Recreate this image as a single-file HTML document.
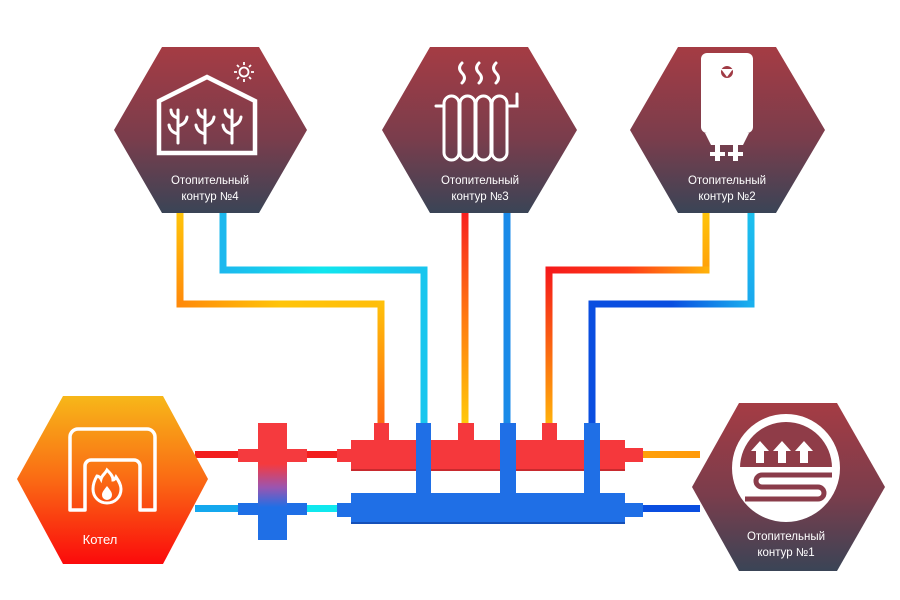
<!DOCTYPE html>
<html><head><meta charset="utf-8"><style>html,body{margin:0;padding:0;background:#fff}svg{display:block}</style></head><body>
<svg width="900" height="600" viewBox="0 0 900 600" xmlns="http://www.w3.org/2000/svg" font-family="Liberation Sans, DejaVu Sans, sans-serif">
<defs>
<linearGradient id="hx" x1="0" y1="0" x2="0" y2="1"><stop offset="0" stop-color="#a53c44"/><stop offset="0.55" stop-color="#7a3d4c"/><stop offset="1" stop-color="#3a4456"/></linearGradient>
<linearGradient id="kt" x1="0" y1="0" x2="0" y2="1"><stop offset="0" stop-color="#f7b719"/><stop offset="0.5" stop-color="#fa6a14"/><stop offset="1" stop-color="#fb0a0c"/></linearGradient>
<linearGradient id="cross" x1="0" y1="423" x2="0" y2="540" gradientUnits="userSpaceOnUse"><stop offset="0" stop-color="#f53a3e"/><stop offset="0.35" stop-color="#f53a3e"/><stop offset="0.55" stop-color="#9b55b0"/><stop offset="0.72" stop-color="#1f6fe6"/><stop offset="1" stop-color="#1f6fe6"/></linearGradient>
<!-- pipe gradients -->
<linearGradient id="o4a" x1="0" y1="213" x2="0" y2="304" gradientUnits="userSpaceOnUse"><stop offset="0" stop-color="#ffc40a"/><stop offset="1" stop-color="#ff8a0a"/></linearGradient>
<linearGradient id="o4b" x1="180" y1="0" x2="381" y2="0" gradientUnits="userSpaceOnUse"><stop offset="0" stop-color="#ff8a0a"/><stop offset="0.5" stop-color="#ffc40a"/><stop offset="1" stop-color="#ffbe0a"/></linearGradient>
<linearGradient id="o4c" x1="0" y1="304" x2="0" y2="423" gradientUnits="userSpaceOnUse"><stop offset="0" stop-color="#ffc00a"/><stop offset="1" stop-color="#ff6a10"/></linearGradient>
<linearGradient id="c4" x1="223" y1="0" x2="424" y2="0" gradientUnits="userSpaceOnUse"><stop offset="0" stop-color="#1cb8ee"/><stop offset="0.5" stop-color="#10e6ee"/><stop offset="1" stop-color="#1cc0ee"/></linearGradient>
<linearGradient id="r3" x1="0" y1="213" x2="0" y2="423" gradientUnits="userSpaceOnUse"><stop offset="0" stop-color="#f72020"/><stop offset="0.5" stop-color="#ff7a10"/><stop offset="1" stop-color="#ffc80a"/></linearGradient>
<linearGradient id="r2a" x1="0" y1="213" x2="0" y2="270" gradientUnits="userSpaceOnUse"><stop offset="0" stop-color="#ffc40a"/><stop offset="1" stop-color="#ffa00a"/></linearGradient>
<linearGradient id="r2b" x1="706" y1="0" x2="549" y2="0" gradientUnits="userSpaceOnUse"><stop offset="0" stop-color="#ffb00a"/><stop offset="0.5" stop-color="#ff3a18"/><stop offset="1" stop-color="#f51a1a"/></linearGradient>
<linearGradient id="r2c" x1="0" y1="270" x2="0" y2="423" gradientUnits="userSpaceOnUse"><stop offset="0" stop-color="#f51a1a"/><stop offset="1" stop-color="#ffb00a"/></linearGradient>
<linearGradient id="b2a" x1="0" y1="213" x2="0" y2="304" gradientUnits="userSpaceOnUse"><stop offset="0" stop-color="#1cc0ee"/><stop offset="1" stop-color="#1aa8ee"/></linearGradient>
<linearGradient id="b2b" x1="751" y1="0" x2="592" y2="0" gradientUnits="userSpaceOnUse"><stop offset="0" stop-color="#1ab0ee"/><stop offset="0.5" stop-color="#0a4ee0"/><stop offset="1" stop-color="#0a4ee0"/></linearGradient>
<linearGradient id="hpo" x1="643" y1="0" x2="700" y2="0" gradientUnits="userSpaceOnUse"><stop offset="0" stop-color="#ffa00a"/><stop offset="1" stop-color="#ff9a0a"/></linearGradient>
<clipPath id="cc"><circle cx="786" cy="468" r="46"/></clipPath>
</defs>

<!-- pipes contour 4 -->
<g stroke-linecap="square" fill="none" stroke-width="7">
<path d="M180 213V304" stroke="url(#o4a)"/>
<path d="M180 304H381" stroke="url(#o4b)"/>
<path d="M381 304V423" stroke="url(#o4c)"/>
<path d="M223 213V270" stroke="#1cb8ee"/>
<path d="M223 270H424" stroke="url(#c4)"/>
<path d="M424 270V423" stroke="#18c6ee"/>
<path d="M465 213V423" stroke="url(#r3)"/>
<path d="M507 213V423" stroke="#1a8ae8"/>
<path d="M706 213V270" stroke="url(#r2a)"/>
<path d="M706 270H549" stroke="url(#r2b)"/>
<path d="M549 270V423" stroke="url(#r2c)"/>
<path d="M751 213V304" stroke="url(#b2a)"/>
<path d="M751 304H592" stroke="url(#b2b)"/>
<path d="M592 304V423" stroke="#0a4ee0"/>
</g>
<!-- horizontal thin pipes -->
<rect x="195" y="451" width="50" height="7" fill="#f21e1e"/>
<rect x="300" y="451" width="40" height="7" fill="#f21e1e"/>
<rect x="195" y="505" width="50" height="7" fill="#14a8ee"/>
<rect x="300" y="505" width="40" height="7" fill="#10e8ee"/>
<rect x="640" y="451" width="60" height="7" fill="url(#hpo)"/>
<rect x="640" y="505" width="60" height="7" fill="#0a4ee0"/>

<!-- cross separator -->
<g fill="url(#cross)">
<rect x="258" y="423" width="29" height="117"/>
<rect x="238" y="449" width="69" height="13" fill="#f53a3e"/>
<rect x="238" y="503" width="69" height="12" fill="#1f6fe6"/>
</g>
<rect x="258" y="423" width="29" height="117" fill="url(#cross)"/>

<!-- red manifold -->
<g fill="#f5383c">
<rect x="337" y="449" width="16" height="13"/>
<rect x="351" y="440" width="274" height="31"/>
<rect x="623" y="448" width="20" height="14"/>
<rect x="374" y="423" width="15" height="18"/>
<rect x="458" y="423" width="16" height="18"/>
<rect x="542" y="423" width="15" height="18"/>
</g>
<rect x="351" y="469" width="274" height="2" fill="#c82a2e"/>
<!-- blue manifold -->
<g fill="#1f6fe6">
<rect x="337" y="503" width="16" height="14"/>
<rect x="351" y="493" width="274" height="31"/>
<rect x="623" y="503" width="20" height="14"/>
<rect x="416" y="423" width="15" height="72"/>
<rect x="500" y="423" width="16" height="72"/>
<rect x="584" y="423" width="16" height="72"/>
</g>
<rect x="351" y="522" width="274" height="2" fill="#1550b8"/>

<!-- hex 4 -->
<polygon points="114,130 162,47 259,47 307,130 259,213 162,213" fill="url(#hx)"/>
<g stroke="#fff" stroke-width="4.5" fill="none" stroke-linejoin="miter">
<path d="M159 153V101L207 77L255 101V153Z"/>
</g>
<g stroke="#fff" stroke-width="1.8" fill="none">
<circle cx="244" cy="72" r="4.5"/>
<path d="M244 62v3M244 79v3M234 72h3M251 72h3M237 65l2 2M249 77l2 2M251 65l-2 2M237 79l2-2"/>
</g>
<g stroke="#fff" stroke-width="3" fill="none" stroke-linecap="round">
<path d="M178 143V110M205 143V110M232 143V110"/>
<path d="M178 134q-8-2-9-9M178 126q8-2 9-9M178 118q-7-2-7-8M205 134q-8-2-9-9M205 126q8-2 9-9M205 118q-7-2-7-8M232 134q-8-2-9-9M232 126q8-2 9-9M232 118q-7-2-7-8"/>
</g>
<text x="210" y="184" font-size="11.5" fill="#fff" text-anchor="middle">Отопительный</text>
<text x="210" y="200" font-size="11.5" fill="#fff" text-anchor="middle">контур  №4</text>

<!-- hex 3 -->
<polygon points="382,130 430,47 528,47 577,130 528,213 430,213" fill="url(#hx)"/>
<g stroke="#fff" stroke-width="3" fill="none" stroke-linecap="round">
<path d="M462 63q-5 5 0 10q5 5 0 10M479 63q-5 5 0 10q5 5 0 10M496 63q-5 5 0 10q5 5 0 10"/>
<rect x="444" y="96" width="15" height="64" rx="7.5"/>
<rect x="460" y="96" width="15" height="64" rx="7.5"/>
<rect x="476" y="96" width="15" height="64" rx="7.5"/>
<rect x="492" y="96" width="15" height="64" rx="7.5"/>
<path d="M436 106h8M507 106h10V94"/>
</g>
<text x="480" y="184" font-size="11.5" fill="#fff" text-anchor="middle">Отопительный</text>
<text x="480" y="200" font-size="11.5" fill="#fff" text-anchor="middle">контур  №3</text>

<!-- hex 2 -->
<polygon points="630,130 678,47 776,47 825,130 776,213 678,213" fill="url(#hx)"/>
<rect x="701" y="53" width="52" height="80" rx="6" fill="#fff"/>
<path d="M705 133h44l-6 12h-32z" fill="#fff"/>
<circle cx="727" cy="72" r="6" fill="#a03a44"/>
<path d="M721 69h12l-6 8z" fill="#fff"/>
<rect x="715" y="143" width="5" height="18" fill="#fff"/>
<rect x="733" y="143" width="5" height="18" fill="#fff"/>
<rect x="710" y="152" width="15" height="4" fill="#fff"/>
<rect x="728" y="152" width="15" height="4" fill="#fff"/>
<text x="727" y="184" font-size="11.5" fill="#fff" text-anchor="middle">Отопительный</text>
<text x="727" y="200" font-size="11.5" fill="#fff" text-anchor="middle">контур  №2</text>

<!-- hex 1 -->
<polygon points="692,487 739,403 837,403 885,487 837,571 739,571" fill="url(#hx)"/>
<circle cx="786" cy="468" r="54" fill="#fff"/>
<g clip-path="url(#cc)">
<rect x="730" y="410" width="120" height="57" fill="#8f3c48"/>
</g>
<g fill="#fff">
<path d="M756 463v-12h-5l9-10 9 10h-5v12z"/>
<path d="M778 463v-12h-5l9-10 9 10h-5v12z"/>
<path d="M800 463v-12h-5l9-10 9 10h-5v12z"/>
</g>
<path d="M832 475H762a6 6 0 0 0 0 12H818a6 6 0 0 1 0 12H745" stroke="#8a3c4a" stroke-width="5" fill="none"/>
<text x="786" y="540" font-size="11.5" fill="#fff" text-anchor="middle">Отопительный</text>
<text x="786" y="556" font-size="11.5" fill="#fff" text-anchor="middle">контур  №1</text>

<!-- Kotel -->
<polygon points="17,479 63,396 163,396 208,479 163,564 63,564" fill="url(#kt)"/>
<path d="M70 510V437a8 8 0 0 1 8-8H147a8 8 0 0 1 8 8V510H140V466a6 6 0 0 0-6-6H91a6 6 0 0 0-6 6V510Z" fill="none" stroke="#fff" stroke-width="3.5" stroke-linejoin="round"/>
<path d="M107 470c-2 4-5 5-6 9c-1-2-3-3-4-3c-3 5-4 9-4 13c0 8 6 14 14 14s14-6 14-14c0-5-3-9-5-12c-1 2-2 3-3 3c0-4-3-7-6-10z" fill="none" stroke="#fff" stroke-width="3"/>
<path d="M107 486c-3 4-5 6-5 9a5 5 0 0 0 10 0c0-3-2-5-5-9z" fill="#fff"/>
<text x="100" y="544" font-size="13" fill="#fff" text-anchor="middle">Котел</text>
</svg>
</body></html>
